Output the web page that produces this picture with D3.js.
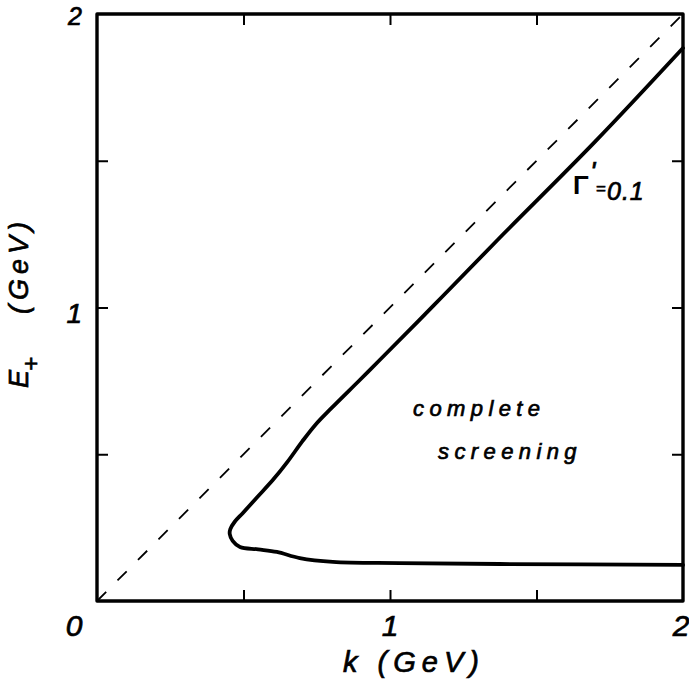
<!DOCTYPE html>
<html>
<head>
<meta charset="utf-8">
<script src="https://cdn.jsdelivr.net/npm/d3@7"></script>
<style>
  html, body { margin: 0; padding: 0; background: #fff; }
  svg { display: block; }
  text { font-family: "Liberation Sans", Arial, sans-serif; fill: #000; }
  .lbl { stroke: #000; stroke-width: 0.7; font-style: italic; }
</style>
</head>
<body>
<svg id="chart" width="689" height="695"></svg>
<script>
// Photon energy k (GeV) and positron energy E+ (GeV) along the Γ' = 0.1 contour
const curveK = [2.0, 1.70, 1.367, 1.15, 0.965, 0.897, 0.80, 0.745, 0.70, 0.65, 0.60, 0.545, 0.498, 0.47, 0.455, 0.453, 0.463, 0.488, 0.55, 0.614, 0.692, 0.805, 1.033, 1.374, 2.0];
const curveE = [1.884, 1.565, 1.23, 1.008, 0.821, 0.753, 0.657, 0.60, 0.543, 0.474, 0.412, 0.352, 0.30, 0.27, 0.245, 0.228, 0.205, 0.184, 0.176, 0.167, 0.146, 0.133, 0.129, 0.126, 0.123];

// Kinematic limit E+ = k
const limitK = [0, 2];
const limitE = [0, 2];

// Axis ticks and labels
const minorTicks = [0.5, 1, 1.5];
const xTickLabels = [{ v: 0, t: "0" }, { v: 1, t: "1" }, { v: 2, t: "2" }];
const yTickLabels = [{ v: 1, t: "1" }, { v: 2, t: "2" }];

const svg = d3.select("#chart");

const x = d3.scaleLinear().domain([0, 2]).range([97, 683]);
const y = d3.scaleLinear().domain([0, 2]).range([601, 14]);

// inward ticks on all four sides
const tickLen = 11;
const axes = [
  { ax: d3.axisBottom(x), tr: `translate(0,${y(0)})` },
  { ax: d3.axisTop(x), tr: `translate(0,${y(2)})` },
  { ax: d3.axisLeft(y), tr: `translate(${x(0)},0)` },
  { ax: d3.axisRight(y), tr: `translate(${x(2)},0)` }
];
axes.forEach(({ ax, tr }) => {
  const g = svg.append("g").attr("transform", tr)
    .call(ax.tickValues(minorTicks).tickSize(-tickLen).tickFormat(""));
  g.select(".domain").remove();
  g.selectAll(".tick line").attr("stroke", "#000").attr("stroke-width", 2);
});

// frame
svg.append("rect")
  .attr("x", x(0)).attr("y", y(2))
  .attr("width", x(2) - x(0)).attr("height", y(0) - y(2))
  .attr("fill", "none").attr("stroke", "#000").attr("stroke-width", 3.4)
  .attr("stroke-linejoin", "round");

const line = d3.line().x(d => x(d[0])).y(d => y(d[1]));

// dashed diagonal E+ = k
svg.append("path")
  .datum(limitK.map((k, i) => [k, limitE[i]]))
  .attr("d", line)
  .attr("fill", "none").attr("stroke", "#000").attr("stroke-width", 1.8)
  .attr("stroke-dasharray", "13,16");

// Γ' = 0.1 contour
svg.append("path")
  .datum(curveK.map((k, i) => [k, curveE[i]]))
  .attr("d", line.curve(d3.curveCatmullRom.alpha(0.5)))
  .attr("fill", "none").attr("stroke", "#000").attr("stroke-width", 3.8)
  .attr("stroke-linejoin", "round").attr("stroke-linecap", "round");

// tick labels
svg.selectAll(".xl").data(xTickLabels).enter().append("text")
  .attr("class", "lbl")
  .attr("x", d => x(d.v) + (d.v === 0 ? -23 : (d.v === 2 ? -2 : 0)))
  .attr("y", 636)
  .attr("text-anchor", "middle")
  .attr("font-size", 30)
  .text(d => d.t);

svg.selectAll(".yl").data(yTickLabels).enter().append("text")
  .attr("class", "lbl")
  .attr("x", 82)
  .attr("y", d => y(d.v) + (d.v === 2 ? 11 : 15))
  .attr("text-anchor", "end")
  .attr("font-size", d => d.v === 2 ? 25 : 28)
  .text(d => d.t);

// axis titles
svg.append("text")
  .attr("class", "lbl")
  .attr("x", 343).attr("y", 672)
  .attr("font-size", 29)
  .attr("letter-spacing", 6)
  .text("k (GeV)");

const yt = svg.append("text")
  .attr("class", "lbl")
  .attr("transform", "translate(28,388) rotate(-90)")
  .attr("font-size", 27)
  .attr("letter-spacing", 5);
yt.append("tspan").text("E");
yt.append("tspan").attr("font-size", 24).attr("dx", -6).attr("dy", 11).text("+");
yt.append("tspan").attr("dy", -11).attr("dx", 38).text("(GeV)");

// in-plot annotations
svg.append("text")
  .attr("class", "lbl")
  .attr("x", 413).attr("y", 416)
  .attr("font-size", 22).attr("stroke-width", 0.5)
  .attr("letter-spacing", 5.4)
  .text("complete");
svg.append("text")
  .attr("class", "lbl")
  .attr("x", 438).attr("y", 459)
  .attr("font-size", 22).attr("stroke-width", 0.5)
  .attr("letter-spacing", 5.4)
  .text("screening");

// contour label Γ' = 0.1
const gl = svg.append("g");
gl.append("text").attr("x", 573).attr("y", 194)
  .attr("font-size", 26).attr("font-weight", "bold").text("Γ");
gl.append("text").attr("x", 590).attr("y", 181)
  .attr("font-size", 28).attr("class", "lbl").text("'");
gl.append("text").attr("x", 596).attr("y", 194)
  .attr("font-size", 17).attr("stroke", "#000").attr("stroke-width", 0.6).text("=");
gl.append("text").attr("x", 607).attr("y", 200)
  .attr("font-size", 25).attr("class", "lbl").attr("letter-spacing", 1).text("0.1");
</script>
</body>
</html>
